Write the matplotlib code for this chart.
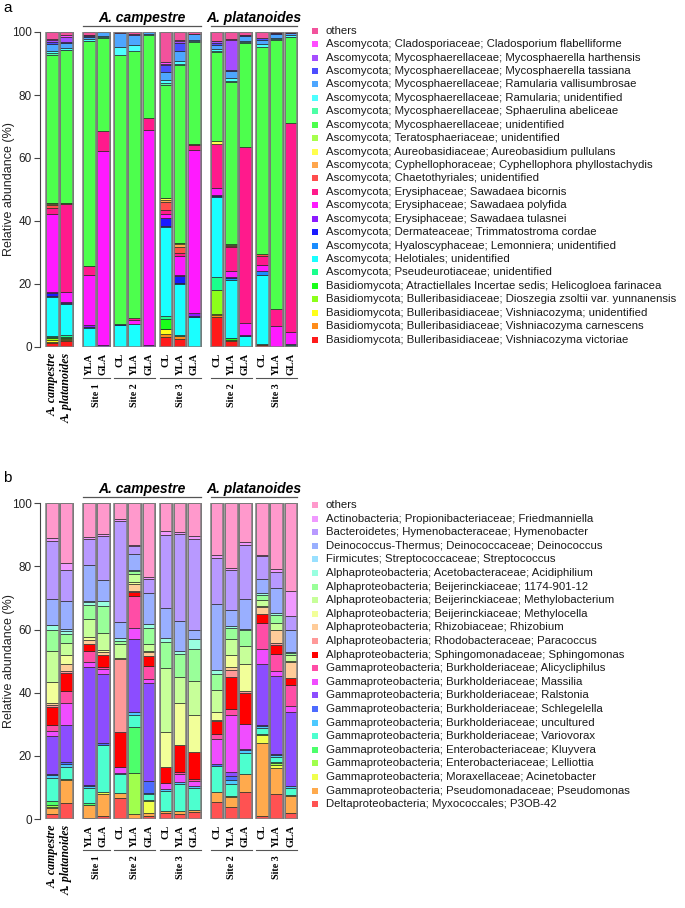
import matplotlib
matplotlib.use('Agg')
import matplotlib.pyplot as plt
from matplotlib.patches import Rectangle
from matplotlib.transforms import blended_transform_factory
import numpy as np

W, H = 685, 908
SANS = 'Liberation Sans'
SERIF = 'Liberation Serif'

# ---------------- data ----------------
# sample labels (left to right)
sample_labels = ["A. campestre", "A. platanoides",
                 "YLA", "GLA", "CL", "YLA", "GLA", "CL", "YLA", "GLA",
                 "CL", "YLA", "GLA", "CL", "YLA", "GLA"]
site_labels = ["Site 1", "Site 2", "Site 3", "Site 2", "Site 3"]
host_labels = ["A. campestre", "A. platanoides"]

# ---- panel a: fungi, taxa in stacking order (bottom -> top) ----
fungi_taxa = [
    "Basidiomycota; Bulleribasidiaceae; Vishniacozyma victoriae",
    "Basidiomycota; Bulleribasidiaceae; Vishniacozyma carnescens",
    "Basidiomycota; Bulleribasidiaceae; Vishniacozyma; unidentified",
    "Basidiomycota; Bulleribasidiaceae; Dioszegia zsoltii var. yunnanensis",
    "Basidiomycota; Atractiellales Incertae sedis; Helicogloea farinacea",
    "Ascomycota; Pseudeurotiaceae; unidentified",
    "Ascomycota; Helotiales; unidentified",
    "Ascomycota; Hyaloscyphaceae; Lemonniera; unidentified",
    "Ascomycota; Dermateaceae; Trimmatostroma cordae",
    "Ascomycota; Erysiphaceae; Sawadaea tulasnei",
    "Ascomycota; Erysiphaceae; Sawadaea polyfida",
    "Ascomycota; Erysiphaceae; Sawadaea bicornis",
    "Ascomycota; Chaetothyriales; unidentified",
    "Ascomycota; Cyphellophoraceae; Cyphellophora phyllostachydis",
    "Ascomycota; Aureobasidiaceae; Aureobasidium pullulans",
    "Ascomycota; Teratosphaeriaceae; unidentified",
    "Ascomycota; Mycosphaerellaceae; unidentified",
    "Ascomycota; Mycosphaerellaceae; Sphaerulina abeliceae",
    "Ascomycota; Mycosphaerellaceae; Ramularia; unidentified",
    "Ascomycota; Mycosphaerellaceae; Ramularia vallisumbrosae",
    "Ascomycota; Mycosphaerellaceae; Mycosphaerella tassiana",
    "Ascomycota; Mycosphaerellaceae; Mycosphaerella harthensis",
    "Ascomycota; Cladosporiaceae; Cladosporium flabelliforme",
    "others",
]
fungi_colors = ['#FF1A1A', '#FF8C1A', '#FFFF1A', '#8CFF1A', '#1AFF1A', '#1AFF8C',
                '#1AFFFF', '#1A8CFF', '#1A1AFF', '#8C1AFF', '#FF1AFF', '#FF1A8C',
                '#FF4D4D', '#FFA64D', '#FFFF4D', '#A6FF4D', '#4DFF4D', '#4DFFA6',
                '#4DFFFF', '#4DA6FF', '#4D4DFF', '#A64DFF', '#FF4DFF', '#F2529C']

# relative abundance (%) per sample, same order as fungi_taxa
fa_campestre   = [1.2,0.5,0.5,0.5,0.5,0.3,12.3,0.3,1.0,0.4,24.6,2.1,0.8,0.4,0.2,0.2,47.0,0.5,0.8,2.2,0.6,0.6,0.2,2.3]
fa_platanoides = [2.0,0.2,0.3,0.5,0.1,0.8,9.9,0.1,0,0.3,3.4,27.8,0.1,0.1,0,0.1,48.5,0.2,0.6,1.5,0.2,1.8,0.5,1.0]
fa_c1_YLA = [0,0,0,0,0,0.1,6.0,0.2,0,0.7,16.0,2.6,0.1,0,0,0,71.3,0.3,0.5,0.7,0.3,0.2,0.2,0.8]
fa_c1_GLA = [0,0,0,0,0,0,0,0,0,0.5,61.7,6.5,0,0,0,0,29.5,0.3,0.3,1.2,0,0,0,0]
fa_c2_CL  = [0,0,0,0,0,0,6.9,0,0.4,0,0,0,0,0,0,0,85.4,0,2.4,4.5,0,0,0,0.4]
fa_c2_YLA = [0,0,0,0,0,0,7.3,0,0,0,1.2,0.6,0,0,0,0,84.8,0,2.0,3.3,0,0.3,0,0.5]
fa_c2_GLA = [0,0,0,0,0,0,0,0,0,0.5,68.5,3.8,0,0,0,0,26.2,0,0.3,0.7,0,0,0,0]
fa_c3_CL  = [3.3,0.7,1.6,0.2,3.2,0.9,28.3,0.2,2.4,0.2,1.2,1.3,2.6,0.5,0.6,0.1,35.9,0.6,0.9,2.7,2.0,0.5,0.5,9.6]
fa_c3_YLA = [2.5,1.0,0,0,0,0.3,16.3,0.2,2.3,0.4,5.9,1.0,2.0,0.7,0.3,0.2,56.5,0.3,1.0,3.2,2.3,0.6,0.5,2.5]
fa_c3_GLA = [0,0,0,0,0,0,9.5,0,0.3,1.0,51.6,1.8,0.3,0,0,0,32.3,0.3,0.5,1.7,0.2,0,0,0.5]
fa_p2_CL  = [9.5,0.8,0.3,7.6,0,3.9,25.4,0.3,0.3,0,2.4,14.0,0,0,0.9,0,28.2,0.3,0.8,1.2,0.6,0.6,0.2,2.7]
fa_p2_YLA = [2.0,0.2,0,0,0.6,0.2,18.4,0.6,0.2,0,2.0,7.5,0.3,0.4,0,0.2,51.4,0.3,1.1,2.1,0.5,9.6,0.3,2.1]
fa_p2_GLA = [0,0,0,0,0,0,3.5,0,0.4,0,3.6,56.0,0,0,0,0,32.9,0.3,0.6,1.3,0.3,0.3,0,0.8]
fa_p3_CL  = [0.5,0.5,0,0,0,0,22.0,1.0,0,0,2.0,3.0,0.5,0,0,0,65.8,0,0.9,1.4,0.5,0,0,1.9]
fa_p3_YLA = [0,0,0,0,0,0,0,0,0,0,6.7,5.3,0,0,0,0,85.5,0.2,0.4,1.4,0.1,0.2,0,0.2]
fa_p3_GLA = [0.3,0,0,0,0,0.2,0.4,0,0,0,3.9,66.4,0,0,0,0,27.1,0.2,0.4,0.7,0.2,0,0,0.2]

# ---- panel b: bacteria, taxa in stacking order (bottom -> top) ----
bact_taxa = [
    "Deltaproteobacteria; Myxococcales; P3OB-42",
    "Gammaproteobacteria; Pseudomonadaceae; Pseudomonas",
    "Gammaproteobacteria; Moraxellaceae; Acinetobacter",
    "Gammaproteobacteria; Enterobacteriaceae; Lelliottia",
    "Gammaproteobacteria; Enterobacteriaceae; Kluyvera",
    "Gammaproteobacteria; Burkholderiaceae; Variovorax",
    "Gammaproteobacteria; Burkholderiaceae; uncultured",
    "Gammaproteobacteria; Burkholderiaceae; Schlegelella",
    "Gammaproteobacteria; Burkholderiaceae; Ralstonia",
    "Gammaproteobacteria; Burkholderiaceae; Massilia",
    "Gammaproteobacteria; Burkholderiaceae; Alicycliphilus",
    "Alphaproteobacteria; Sphingomonadaceae; Sphingomonas",
    "Alphaproteobacteria; Rhodobacteraceae; Paracoccus",
    "Alphaproteobacteria; Rhizobiaceae; Rhizobium",
    "Alphaproteobacteria; Beijerinckiaceae; Methylocella",
    "Alphaproteobacteria; Beijerinckiaceae; Methylobacterium",
    "Alphaproteobacteria; Beijerinckiaceae; 1174-901-12",
    "Alphaproteobacteria; Acetobacteraceae; Acidiphilium",
    "Firmicutes; Streptococcaceae; Streptococcus",
    "Deinococcus-Thermus; Deinococcaceae; Deinococcus",
    "Bacteroidetes; Hymenobacteraceae; Hymenobacter",
    "Actinobacteria; Propionibacteriaceae; Friedmanniella",
    "others",
]
bact_colors = ['#FF5252', '#FFAA4D', '#F0FF4D', '#A0FF4D', '#4DFF6B', '#4DFFCF',
               '#4DC9FF', '#4D6BFF', '#8C4DFF', '#F04DFF', '#FF4DA6', '#FF0000',
               '#FF9999', '#FFCC99', '#F2FF99', '#C7FF99', '#99FF99', '#99FFE0',
               '#99E0FF', '#99AFFF', '#B899FF', '#F099FF', '#FF99CC']

fb_campestre   = [1.5,2.0,0.3,0.7,1.3,7.2,0.8,0.5,12.0,1.7,1.8,5.6,0.8,0.5,6.8,9.7,6.8,1.4,0.2,8.1,18.5,0.8,11.0]
fb_platanoides = [5.0,7.3,0.3,0,0,4.0,0.9,0.5,11.7,6.9,3.9,5.7,0.6,2.2,2.8,3.9,2.9,0.9,0.8,8.6,10.1,2.0,19.0]
fb_c1_YLA = [0.3,4.2,0,0,0.5,4.8,0.5,0.5,37.2,1.6,3.7,2.0,0,1.3,1.1,5.7,4.4,0.8,0.4,11.3,8.4,0.5,10.8]
fb_c1_GLA = [0.8,7.2,0.6,0,0,14.9,0,0.5,21.8,1.7,0.7,3.6,0,1.0,0.7,5.3,8.7,1.7,0,6.5,14.1,0.4,9.8]
fb_c2_CL  = [6.6,1.6,0,0,0,5.9,0.5,0,0,1.8,0,11.3,23.0,0,0.3,4.3,1.2,0.8,0,5.2,32.0,0.5,5.0]
fb_c2_YLA = [0,1.7,0,12.8,14.5,4.0,1.0,0,23.0,3.5,10.0,1.3,0.4,2.1,0.7,2.7,0.8,0.5,0,4.8,2.7,0.2,13.3]
fb_c2_GLA = [0.8,1.2,3.7,0.3,0,1.8,0.4,3.8,31.2,1.3,3.9,3.3,0,1.1,0.5,2.0,5.2,1.3,0,9.7,4.5,0.5,23.5]
fb_c3_CL  = [1.8,0.7,0,0,0,6.5,0.5,0,0,1.8,0,5.1,0,0,11.2,20.3,8.3,1.2,0,9.4,23.2,1.3,8.7]
fb_c3_YLA = [1.6,0.9,0,0,0,8.7,0.6,0,0,2.4,0.6,8.7,0,0,13.3,8.2,7.2,1.1,0,9.5,27.4,0.8,9.0]
fb_c3_GLA = [2.1,0.7,0,0,0,7.0,0.7,0,0,1.4,0.7,8.5,0,0,12.0,10.5,10.4,2.9,0,3.1,28.8,0.8,10.4]
fb_p2_CL  = [5.3,3.3,0,0,0,8.2,0,0.7,0,7.8,1.5,4.4,0,0.3,2.5,7.0,5.0,1.3,0,20.7,14.7,1.0,16.3]
fb_p2_YLA = [3.8,3.2,0.3,0,0,3.7,1.2,1.4,1.4,17.8,2.0,10.2,2.3,0.7,3.8,5.2,3.5,0.7,0,5.1,12.7,0.6,20.4]
fb_p2_GLA = [8.6,5.6,0,0,0,6.8,1.0,0,0.3,7.7,0,10.0,0.5,0,8.5,5.7,5.1,0.5,0,9.4,17.2,0.8,12.3]
fb_p3_CL  = [1.0,23.0,2.5,0.5,0,1.8,0.7,0.3,19.4,4.5,8.3,2.8,0,2.2,0.5,2.0,1.5,0.6,0,4.4,7.2,0.4,16.4]
fb_p3_YLA = [8.0,8.0,1.0,0.6,0.4,1.6,0.6,0.4,24.7,1.7,5.3,2.7,0.8,4.2,0,2.0,2.5,0.8,0,8.0,5.0,1.0,20.7]
fb_p3_GLA = [1.8,5.4,0.3,0,0,2.3,0.7,0,23.5,1.8,6.5,2.3,0,5.0,0.6,1.8,0.6,0.4,0,7.0,4.2,8.1,27.7]

fungi_samples = [fa_campestre, fa_platanoides, fa_c1_YLA, fa_c1_GLA, fa_c2_CL, fa_c2_YLA,
                 fa_c2_GLA, fa_c3_CL, fa_c3_YLA, fa_c3_GLA, fa_p2_CL, fa_p2_YLA, fa_p2_GLA,
                 fa_p3_CL, fa_p3_YLA, fa_p3_GLA]
bact_samples = [fb_campestre, fb_platanoides, fb_c1_YLA, fb_c1_GLA, fb_c2_CL, fb_c2_YLA,
                fb_c2_GLA, fb_c3_CL, fb_c3_YLA, fb_c3_GLA, fb_p2_CL, fb_p2_YLA, fb_p2_GLA,
                fb_p3_CL, fb_p3_YLA, fb_p3_GLA]

# ---------------- layout ----------------
group_sizes = [2, 2, 3, 3, 3, 3]
group_gaps = [0.0, 0.6, 0.2, 0.2, 0.6, 0.2]
pos, groups = [], []
cur = 0.0
for gs, gg in zip(group_sizes, group_gaps):
    cur += gg
    g = []
    for _ in range(gs):
        pos.append(cur)
        g.append(cur)
        cur += 1.0
    groups.append(g)
BW = 0.89

# px mapping: px = 52.3 + 14.2 * p
X0PX, XSCALE = 52.3, 14.2
AX_LEFT_PX, AX_RIGHT_PX = 40.0, 300.0
xlim = ((AX_LEFT_PX - X0PX) / XSCALE, (AX_RIGHT_PX - X0PX) / XSCALE)

fig = plt.figure(figsize=(W / 100, H / 100), dpi=100)


def fy(ypx):
    return 1 - ypx / H


def draw_panel(samples, colors, taxa, y100, y0, letter, letter_y, leg_y0, leg_dy):
    ax = fig.add_axes([AX_LEFT_PX / W, fy(y0), (AX_RIGHT_PX - AX_LEFT_PX) / W, (y0 - y100) / H])
    ax.set_xlim(*xlim)
    ax.set_ylim(0, 100)
    for p, vals in zip(pos, samples):
        v = np.asarray(vals, dtype=float)
        v = v / v.sum() * 100.0
        bottoms = np.concatenate([[0.0], np.cumsum(v)[:-1]])
        m = v > 0
        ax.bar(np.full(m.sum(), p), v[m], bottom=bottoms[m], width=BW,
               color=np.array(colors)[m], edgecolor='#1e1e1e', linewidth=0.45, zorder=2)
        ax.bar(p, 100, width=BW, fill=False, edgecolor='#808080', linewidth=1.1, zorder=3)
    for s in ['top', 'right', 'bottom']:
        ax.spines[s].set_visible(False)
    ax.spines['left'].set_color('#444444')
    ax.spines['left'].set_linewidth(0.8)
    ax.set_xticks([])
    ax.set_yticks([0, 20, 40, 60, 80, 100])
    ax.tick_params(axis='y', direction='out', length=4, width=0.8, color='#444444',
                   labelsize=8.5, labelcolor='#222222', pad=2)
    for t in ax.get_yticklabels():
        t.set_family(SANS)
    fig.text(9 / W, fy((y100 + y0) / 2), 'Relative abundance (%)', rotation=90,
             ha='center', va='center', fontsize=9, family=SANS, color='#222222')

    tr = blended_transform_factory(ax.transData, fig.transFigure)
    # host titles
    host_groups = [groups[1] + groups[2] + groups[3], groups[4] + groups[5]]
    for name, g in zip(host_labels, host_groups):
        xa, xb = min(g) - BW / 2, max(g) + BW / 2
        ax.plot([xa, xb], [fy(y100 - 6), fy(y100 - 6)], transform=tr, color='#555555',
                lw=0.9, clip_on=False)
        ax.text((xa + xb) / 2, fy(y100 - 10), name, transform=tr, ha='center', va='baseline',
                fontsize=10, family=SANS, fontweight='bold', fontstyle='italic')
    # sample labels
    for i, (p, lab) in enumerate(zip(pos, sample_labels)):
        if i < 2:
            ax.text(p, fy(y0 + 6), lab, transform=tr, rotation=90, ha='center', va='top',
                    fontsize=8.6, family=SERIF, fontweight='bold', fontstyle='italic')
        else:
            ax.text(p, fy(y0 + 6), lab, transform=tr, rotation=90, ha='center', va='top',
                    fontsize=7.4, family=SERIF, fontweight='bold')
    # site labels
    for name, g in zip(site_labels, groups[1:]):
        xa, xb = min(g) - BW / 2, max(g) + BW / 2
        ax.plot([xa, xb], [fy(y0 + 31), fy(y0 + 31)], transform=tr, color='#555555',
                lw=0.8, clip_on=False)
        ax.text((xa + xb) / 2, fy(y0 + 36), name, transform=tr, rotation=90, ha='center',
                va='top', fontsize=7.2, family=SERIF, fontweight='bold')
    fig.text(3 / W, fy(letter_y), letter, ha='left', va='center', fontsize=11, family=SANS)

    # legend (top -> bottom = reverse stacking)
    for i, (name, col) in enumerate(zip(taxa[::-1], colors[::-1])):
        yc = leg_y0 + i * leg_dy
        fig.patches.append(Rectangle((312 / W, fy(yc + 3)), 6 / W, 6 / H,
                                     transform=fig.transFigure, facecolor=col, edgecolor='none'))
        fig.text(326 / W, fy(yc), name, ha='left', va='center', fontsize=8.2, family=SANS,
                 color='#1a1a1a')
    return ax


draw_panel(fungi_samples, fungi_colors, fungi_taxa, 32, 347, 'a', 8, 30.7, 13.43)
draw_panel(bact_samples, bact_colors, bact_taxa, 503.3, 819, 'b', 478, 505, 13.6)

fig.savefig('out.png', dpi=100)
